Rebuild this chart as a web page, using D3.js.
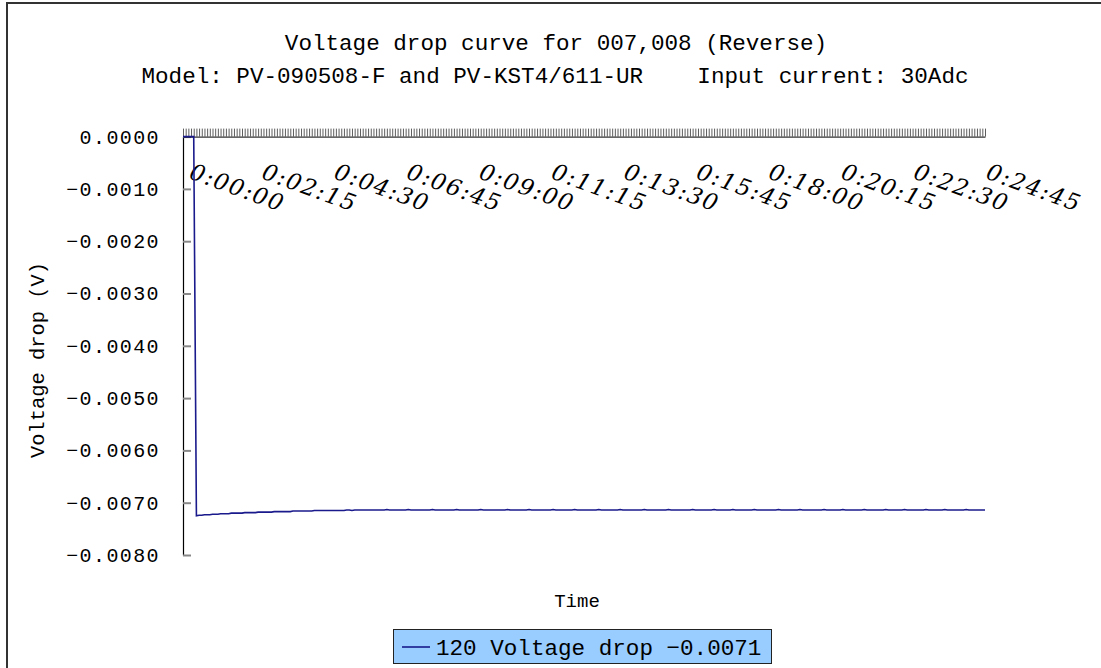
<!DOCTYPE html>
<html><head><meta charset="utf-8">
<script src="https://cdn.jsdelivr.net/npm/d3@7"></script>
<style>html,body{margin:0;background:#fff;overflow:hidden;}svg{display:block;}</style>
</head><body>
<svg id="c" width="1101" height="668"></svg>
<script>
const titleText = "Voltage drop curve for 007,008 (Reverse)";
const subtitleText = "Model: PV-090508-F and PV-KST4/611-UR    Input current: 30Adc";
const xTitle = "Time";
const yTitle = "Voltage drop (V)";
const seriesName = "120 Voltage drop";
const legendValue = "-0.0071";
const yTicks = [0, -0.001, -0.002, -0.003, -0.004, -0.005, -0.006, -0.007, -0.008];
const tickLabels = ["0:00:00","0:02:15","0:04:30","0:06:45","0:09:00","0:11:15","0:13:30","0:15:45","0:18:00","0:20:15","0:22:30","0:24:45"];
const values = [
0,0,0,0,0,-0.00725,-0.00724,-0.00724,-0.00723,-0.00723,-0.00723,-0.00722,-0.00722,-0.00722,-0.00721,-0.00721,-0.00721,-0.00721,-0.00720,-0.00720,
-0.00720,-0.00720,-0.00720,-0.00719,-0.00719,-0.00719,-0.00719,-0.00719,-0.00718,-0.00718,-0.00718,-0.00718,-0.00718,-0.00718,-0.00717,-0.00717,-0.00717,-0.00717,-0.00717,-0.00717,
-0.00717,-0.00716,-0.00716,-0.00716,-0.00716,-0.00716,-0.00716,-0.00716,-0.00716,-0.00715,-0.00715,-0.00715,-0.00715,-0.00715,-0.00715,-0.00715,-0.00715,-0.00715,-0.00715,-0.00715,
-0.00715,-0.00714,-0.00714,-0.00715,-0.00714,-0.00714,-0.00714,-0.00714,-0.00714,-0.00714,-0.00714,-0.00714,-0.00714,-0.00714,-0.00714,-0.00714,-0.00713,-0.00714,-0.00714,-0.00714,
-0.00714,-0.00714,-0.00714,-0.00714,-0.00713,-0.00714,-0.00714,-0.00714,-0.00714,-0.00714,-0.00714,-0.00714,-0.00714,-0.00713,-0.00714,-0.00714,-0.00714,-0.00714,-0.00714,-0.00714,
-0.00714,-0.00714,-0.00713,-0.00714,-0.00714,-0.00714,-0.00714,-0.00714,-0.00714,-0.00714,-0.00714,-0.00713,-0.00714,-0.00714,-0.00714,-0.00714,-0.00714,-0.00714,-0.00714,-0.00714,
-0.00714,-0.00713,-0.00714,-0.00714,-0.00714,-0.00714,-0.00714,-0.00714,-0.00714,-0.00713,-0.00714,-0.00714,-0.00714,-0.00714,-0.00714,-0.00714,-0.00714,-0.00714,-0.00713,-0.00714,
-0.00714,-0.00714,-0.00714,-0.00714,-0.00714,-0.00714,-0.00713,-0.00714,-0.00714,-0.00714,-0.00714,-0.00714,-0.00714,-0.00714,-0.00714,-0.00713,-0.00714,-0.00714,-0.00714,-0.00714,
-0.00714,-0.00714,-0.00714,-0.00713,-0.00714,-0.00714,-0.00714,-0.00714,-0.00714,-0.00714,-0.00714,-0.00714,-0.00713,-0.00714,-0.00714,-0.00714,-0.00714,-0.00714,-0.00714,-0.00714,
-0.00714,-0.00713,-0.00714,-0.00714,-0.00714,-0.00714,-0.00714,-0.00714,-0.00714,-0.00714,-0.00713,-0.00714,-0.00714,-0.00714,-0.00714,-0.00714,-0.00714,-0.00714,-0.00713,-0.00714,
-0.00714,-0.00714,-0.00714,-0.00714,-0.00714,-0.00713,-0.00714,-0.00714,-0.00714,-0.00714,-0.00714,-0.00714,-0.00714,-0.00713,-0.00714,-0.00714,-0.00714,-0.00714,-0.00714,-0.00714,
-0.00714,-0.00714,-0.00713,-0.00714,-0.00714,-0.00714,-0.00714,-0.00714,-0.00714,-0.00714,-0.00713,-0.00714,-0.00714,-0.00714,-0.00714,-0.00714,-0.00714,-0.00714,-0.00714,-0.00713,
-0.00714,-0.00714,-0.00714,-0.00714,-0.00714,-0.00714,-0.00713,-0.00714,-0.00714,-0.00714,-0.00714,-0.00714,-0.00714,-0.00714,-0.00713,-0.00714,-0.00714,-0.00714,-0.00714,-0.00714,
-0.00714,-0.00714,-0.00713,-0.00714,-0.00714,-0.00714,-0.00714,-0.00714,-0.00714,-0.00713,-0.00714,-0.00714,-0.00714,-0.00714,-0.00714,-0.00714,-0.00714,-0.00713,-0.00714,-0.00714,
-0.00714,-0.00714,-0.00714,-0.00714,-0.00713,-0.00714,-0.00714,-0.00714,-0.00714,-0.00714,-0.00714,-0.00714,-0.00713,-0.00714,-0.00714,-0.00714,-0.00714,-0.00714,-0.00714,-0.00714
];
// 5-second sample timestamps, one per value
const categories = values.map((_, i) => {
  const s = i * 5, h = Math.floor(s / 3600), m = Math.floor((s % 3600) / 60), sec = s % 60;
  return h + ":" + String(m).padStart(2, "0") + ":" + String(sec).padStart(2, "0");
});

const svg = d3.select("#c");
const mono = "'Liberation Mono', 'DejaVu Sans Mono', monospace";

// outer frame (only top and left edges visible)
svg.append("path").attr("d", "M7,700 V3 H1101")
  .attr("fill", "none").attr("stroke", "#333").attr("stroke-width", 2);

// titles
svg.append("text").attr("x", 556).attr("y", 50).attr("text-anchor", "middle")
  .attr("font-family", mono).attr("font-size", 22.6).text(titleText);
svg.append("text").attr("x", 555).attr("y", 83).attr("text-anchor", "middle")
  .attr("font-family", mono).attr("font-size", 22.6)
  .style("white-space", "pre").text(subtitleText);

const x = d3.scalePoint().domain(categories).range([183, 985]);
const y = d3.scaleLinear().domain([-0.008, 0]).range([555, 136.6]);

// y axis
const fmt = v => (v === 0 ? "0.0000" : "\u2212" + d3.format(".4f")(-v));
const gy = svg.append("g").attr("transform", "translate(183,0)")
  .call(d3.axisLeft(y).tickValues(yTicks).tickFormat(fmt).tickSizeInner(-8).tickSizeOuter(0).tickPadding(23));
gy.select(".domain").attr("stroke", "#000").attr("stroke-width", 1.2);
gy.selectAll(".tick line").attr("stroke", "#888").attr("stroke-width", 2);
gy.selectAll(".tick text").attr("font-family", mono).attr("font-size", 20)
  .attr("letter-spacing", 1.4).attr("fill", "#000");

// x axis (top, dense ticks)
const gx = svg.append("g").attr("transform", "translate(0," + y(0) + ")")
  .call(d3.axisTop(x).tickValues(categories).tickFormat("").tickSizeInner(8).tickSizeOuter(0));
gx.select(".domain").attr("stroke", "#000");
gx.selectAll(".tick line").attr("stroke", "#333").attr("stroke-width", 0.8);

// rotated x tick labels
svg.append("g").selectAll("text").data(tickLabels).join("text")
  .attr("transform", d => "translate(" + (x(d) + 5) + ",178) rotate(20)")
  .attr("font-family", "'DejaVu Serif', serif").attr("font-style", "italic")
  .attr("font-size", 23).attr("letter-spacing", 1.5).attr("fill", "#000").text(d => d);

// axis titles
svg.append("text").attr("transform", "translate(44,360) rotate(-90)").attr("text-anchor", "middle")
  .attr("font-family", mono).attr("font-size", 20.4).text(yTitle);
svg.append("text").attr("x", 577).attr("y", 607).attr("text-anchor", "middle")
  .attr("font-family", mono).attr("font-size", 19).text(xTitle);

// line
const line = d3.line().x((d, i) => x(categories[i])).y(d => y(d));
svg.append("path").datum(values).attr("d", line).attr("fill", "none")
  .attr("stroke", "#1a1a8c").attr("stroke-width", 1.6);

// legend
const lg = svg.append("g");
lg.append("rect").attr("x", 393.5).attr("y", 629.5).attr("width", 378).attr("height", 34)
  .attr("fill", "#99ccff").attr("stroke", "#222").attr("stroke-width", 1);
lg.append("line").attr("x1", 402).attr("x2", 430).attr("y1", 647).attr("y2", 647)
  .attr("stroke", "#1a1a8c").attr("stroke-width", 1.6);
lg.append("text").attr("x", 436).attr("y", 655).attr("font-family", mono).attr("font-size", 22.6)
  .text(seriesName + " " + legendValue.replace("-", "\u2212"));
</script>
</body></html>
